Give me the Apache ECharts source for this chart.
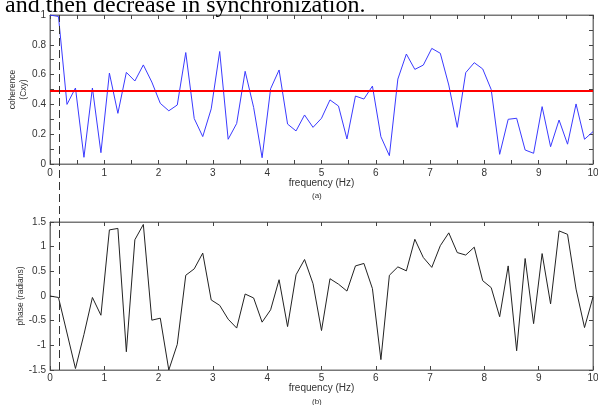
<!DOCTYPE html>
<html>
<head>
<meta charset="utf-8">
<script src="https://cdn.jsdelivr.net/npm/echarts@6/dist/echarts.min.js"></script>
<style>
  html, body { margin: 0; padding: 0; background: #fff; }
  #chart { width: 598px; height: 405px; }
</style>
</head>
<body>
<div id="chart"></div>
<script>
// frequency bins (Hz)
const freqs = [0, 0.156, 0.313, 0.469, 0.625, 0.781, 0.938, 1.094, 1.25, 1.406, 1.563, 1.719, 1.875,
  2.031, 2.188, 2.344, 2.5, 2.656, 2.813, 2.969, 3.125, 3.281, 3.438, 3.594, 3.75, 3.906, 4.063,
  4.219, 4.375, 4.531, 4.688, 4.844, 5, 5.156, 5.313, 5.469, 5.625, 5.781, 5.938, 6.094, 6.25,
  6.406, 6.563, 6.719, 6.875, 7.031, 7.188, 7.344, 7.5, 7.656, 7.813, 7.969, 8.125, 8.281, 8.438,
  8.594, 8.75, 8.906, 9.063, 9.219, 9.375, 9.531, 9.688, 9.844, 10]

// coherence (Cxy)
const coherence = [1.0, 0.99, 0.40, 0.51, 0.045, 0.51, 0.076, 0.61, 0.34, 0.615, 0.557, 0.665, 0.55,
  0.407, 0.357, 0.396, 0.748, 0.305, 0.184, 0.37, 0.755, 0.166, 0.272, 0.622, 0.38, 0.042, 0.505,
  0.631, 0.268, 0.222, 0.329, 0.246, 0.307, 0.43, 0.389, 0.168, 0.456, 0.436, 0.523, 0.183, 0.056,
  0.57, 0.738, 0.635, 0.664, 0.776, 0.743, 0.53, 0.246, 0.613, 0.68, 0.638, 0.5, 0.065, 0.30,
  0.307, 0.094, 0.072, 0.385, 0.116, 0.295, 0.133, 0.403, 0.166, 0.217]

// phase (radians)
const phase = [0, -0.03, -0.75, -1.47, -0.78, -0.03, -0.39, 1.34, 1.37, -1.13, 1.14, 1.45, -0.49,
  -0.45, -1.5, -0.98, 0.42, 0.55, 0.87, -0.08, -0.19, -0.47, -0.65, 0.04, -0.04, -0.53, -0.28,
  0.33, -0.62, 0.43, 0.74, 0.25, -0.70, 0.35, 0.24, 0.10, 0.61, 0.66, 0.15, -1.29, 0.42,
  0.59, 0.51, 1.15, 0.78, 0.58, 1.02, 1.28, 0.88, 0.83, 0.99, 0.31, 0.17, -0.42, 0.61,
  -1.11, 0.76, -0.56, 0.86, -0.16, 1.32, 1.25, 0.14, -0.64, -0.02]

const threshold = 0.495   // red line
const markFreq = 0.166    // dashed marker

const pairs = (ys) => freqs.map((f, i) => [f, ys[i]])

const axisColor = '#777'
const labelStyle = { color: '#333', fontSize: 10, fontFamily: 'Liberation Sans, Arial, sans-serif' }
const nameStyle = { color: '#333', fontSize: 8.5, fontFamily: 'Liberation Sans, Arial, sans-serif' }

function boxAxis(extra) {
  return Object.assign({
    type: 'value',
    axisLine: { show: true, onZero: false, lineStyle: { color: axisColor } },
    axisTick: { show: true, inside: true, length: 4, lineStyle: { color: '#444' } },
    splitLine: { show: false },
    axisLabel: { show: false },
    nameMoveOverlap: false
  }, extra)
}

const chart = echarts.init(document.getElementById('chart'))
chart.setOption({
  animation: false,
  title: [{
    text: 'and then decrease in synchronization.',
    left: 5, top: -6, padding: 0,
    textStyle: { fontFamily: 'Liberation Serif, Times New Roman, serif', fontSize: 24, fontWeight: 'normal', color: '#000' }
  }, {
    text: '(a)', left: 312, top: 192, padding: 0,
    textStyle: { fontFamily: 'Liberation Sans, Arial', fontSize: 8, fontWeight: 'normal', color: '#333' }
  }, {
    text: '(b)', left: 312, top: 398, padding: 0,
    textStyle: { fontFamily: 'Liberation Sans, Arial', fontSize: 8, fontWeight: 'normal', color: '#333' }
  }],
  grid: [
    { left: 50, right: 5, top: 15, height: 149, show: true, borderColor: axisColor, borderWidth: 1, containLabel: false, outerBoundsMode: 'none' },
    { left: 50, right: 5, top: 222, height: 148, show: true, borderColor: axisColor, borderWidth: 1, containLabel: false, outerBoundsMode: 'none' },
    { left: 50, right: 5, top: 15, height: 355, outerBoundsMode: 'none' }
  ],
  xAxis: [
    boxAxis({
      gridIndex: 0, min: 0, max: 10, interval: 0.5,
      axisLabel: {
        show: true, margin: 4, ...labelStyle,
        formatter: v => Math.abs(v - Math.round(v)) < 1e-6 ? String(Math.round(v)) : ''
      },
      name: 'frequency (Hz)', nameLocation: 'middle', nameGap: 14,
      nameTextStyle: { ...labelStyle, fontSize: 10 }
    }),
    boxAxis({ gridIndex: 0, min: 0, max: 10, interval: 0.5, position: 'top' }),
    boxAxis({
      gridIndex: 1, min: 0, max: 10, interval: 1,
      axisLabel: { show: true, margin: 3, ...labelStyle },
      name: 'frequency (Hz)', nameLocation: 'middle', nameGap: 13,
      nameTextStyle: { ...labelStyle, fontSize: 10 }
    }),
    boxAxis({ gridIndex: 1, min: 0, max: 10, interval: 1, position: 'top' }),
    { type: 'value', gridIndex: 2, min: 0, max: 10, show: false }
  ],
  yAxis: [
    boxAxis({
      gridIndex: 0, min: 0, max: 1, interval: 0.1,
      axisLabel: {
        show: true, margin: 4, ...labelStyle,
        formatter: v => { const t = Math.round(v * 10); return t % 2 === 0 ? String(t / 10) : '' }
      },
      name: 'coherence\n(Cxy)', nameLocation: 'middle', nameRotate: 90, nameGap: 21,
      nameTextStyle: { ...nameStyle, lineHeight: 11 }
    }),
    boxAxis({ gridIndex: 0, min: 0, max: 1, interval: 0.1, position: 'right' }),
    boxAxis({
      gridIndex: 1, min: -1.5, max: 1.5, interval: 0.5,
      axisLabel: { show: true, margin: 4, ...labelStyle },
      name: 'phase (radians)', nameLocation: 'middle', nameRotate: 90, nameGap: 25,
      nameTextStyle: nameStyle
    }),
    boxAxis({ gridIndex: 1, min: -1.5, max: 1.5, interval: 0.5, position: 'right' }),
    { type: 'value', gridIndex: 2, min: 0, max: 1, show: false }
  ],
  series: [
    {
      type: 'line', xAxisIndex: 0, yAxisIndex: 0, data: pairs(coherence),
      showSymbol: false, lineStyle: { color: '#3a3aff', width: 1 },
      markLine: {
        silent: true, symbol: 'none', label: { show: false },
        lineStyle: { color: '#ff0000', width: 2, type: 'solid' },
        data: [{ yAxis: threshold }]
      }
    },
    {
      type: 'line', xAxisIndex: 2, yAxisIndex: 2, data: pairs(phase),
      showSymbol: false, lineStyle: { color: '#222', width: 1 }
    },
    {
      type: 'line', xAxisIndex: 4, yAxisIndex: 4, data: [],
      markLine: {
        silent: true, symbol: 'none', label: { show: false },
        lineStyle: { color: '#333', width: 1, type: [8, 4] },
        data: [{ xAxis: markFreq }]
      }
    }
  ]
})
</script>
</body>
</html>
